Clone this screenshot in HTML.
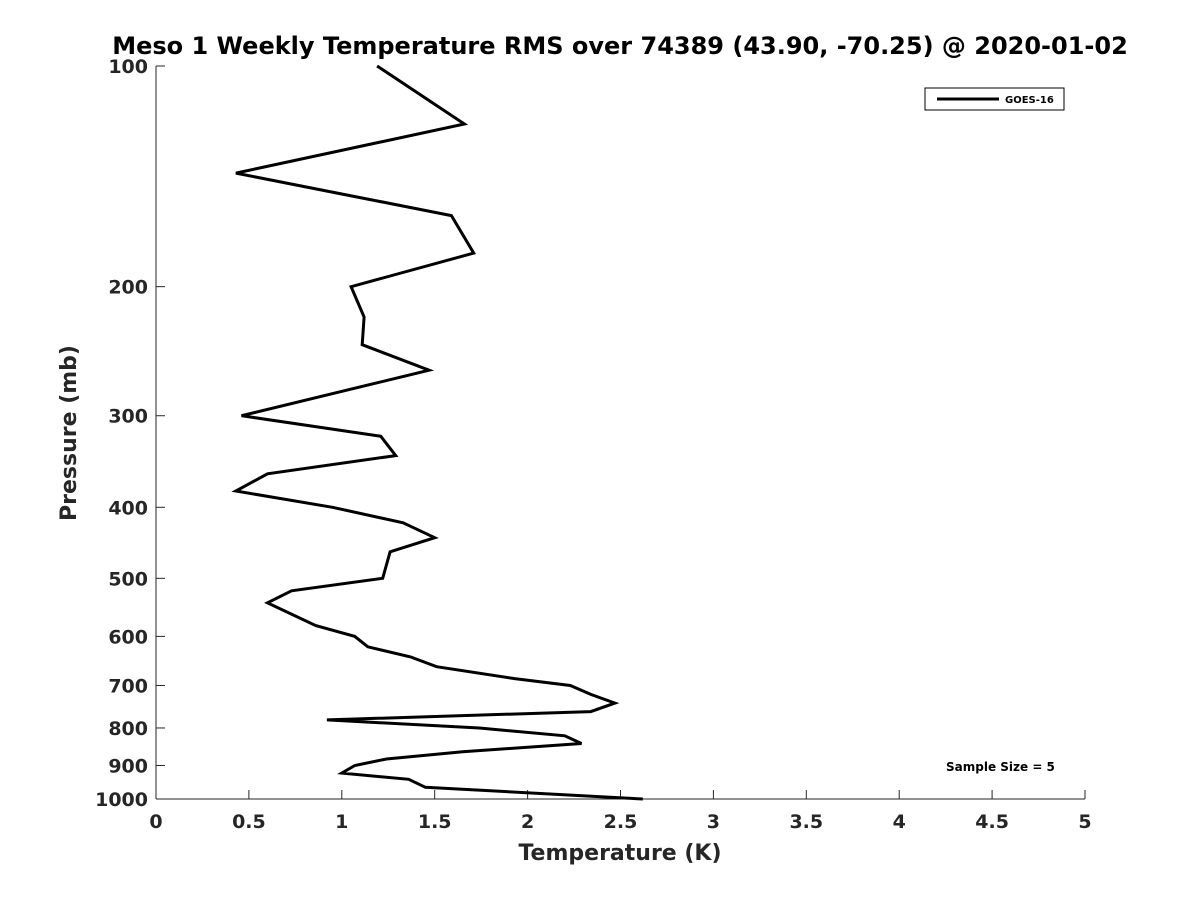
<!DOCTYPE html>
<html><head><meta charset="utf-8"><style>
body{margin:0;background:#fff;}
text{font-family:"DejaVu Sans","Liberation Sans",sans-serif;font-weight:bold;}
</style></head><body>
<svg id="chart" width="1200" height="900" xmlns="http://www.w3.org/2000/svg">
<rect width="1200" height="900" fill="#fff"/>
<text x="620" y="54" text-anchor="middle" font-size="24" fill="#000">Meso 1 Weekly Temperature RMS over 74389 (43.90, -70.25) @ 2020-01-02</text>
<g id="axes"></g>
<g id="series"></g>
<g>
<rect x="925" y="88" width="139" height="22" fill="#fff" stroke="#000" stroke-width="1"/>
<line x1="937" y1="99" x2="999" y2="99" stroke="#000" stroke-width="3"/>
<text x="1005" y="103" font-size="10" fill="#000">GOES-16</text>
</g>
<text x="946" y="771" font-size="12" fill="#000">Sample Size = 5</text>
<text x="620" y="860" text-anchor="middle" font-size="22" fill="#262626">Temperature (K)</text>
<text transform="translate(76,433) rotate(-90)" text-anchor="middle" font-size="22" fill="#262626">Pressure (mb)</text>
</svg>
<script>
const xTicks=[0,0.5,1,1.5,2,2.5,3,3.5,4,4.5,5];
const xTickLabels=["0","0.5","1","1.5","2","2.5","3","3.5","4","4.5","5"];
const yTicks=[100,200,300,400,500,600,700,800,900,1000];
const yTickLabels=["100","200","300","400","500","600","700","800","900","1000"];
const pressure=[100,120,140,160,180,200,220,240,260,300,320,340,360,380,400,420,440,460,500,520,540,580,600,620,640,660,685,700,720,740,760,780,800,820,840,862,882,900,922,940,964,1000];
const temperature=[1.19,1.66,0.43,1.59,1.71,1.05,1.12,1.11,1.47,0.46,1.21,1.29,0.60,0.43,0.95,1.33,1.50,1.26,1.22,0.73,0.60,0.86,1.07,1.14,1.37,1.51,1.93,2.23,2.34,2.47,2.34,0.92,1.74,2.20,2.29,1.65,1.24,1.07,1.00,1.36,1.45,2.62];
const NS="http://www.w3.org/2000/svg";
const L=156,R=1085,T=66,B=799;
function xs(v){return L+(v-0)/(5-0)*(R-L);}
function ys(p){return T+(Math.log10(p)-2)/(1)*(B-T);}
function mk(tag,attrs,parent){const e=document.createElementNS(NS,tag);for(const k in attrs)e.setAttribute(k,attrs[k]);parent.appendChild(e);return e;}
const ax=document.getElementById('axes');
let a=mk('line',{x1:L,y1:B,x2:R,y2:B,stroke:'#262626','stroke-width':1},ax);


a=mk('line',{x1:L,y1:T,x2:L,y2:B,stroke:'#262626','stroke-width':1},ax);


xTicks.forEach((v,i)=>{
  const x=xs(v);
  mk('line',{x1:x,y1:B,x2:x,y2:B-9,stroke:'#262626'},ax);
  const t=mk('text',{x:x,y:B+29,'text-anchor':'middle','font-size':19,fill:'#262626'},ax);
  t.textContent=xTickLabels[i];
  
  
});
yTicks.forEach((v,i)=>{
  const y=ys(v);
  mk('line',{x1:L,y1:y,x2:L+9,y2:y,stroke:'#262626'},ax);
  const t=mk('text',{x:L-8,y:y+7,'text-anchor':'end','font-size':19,fill:'#262626'},ax);
  t.textContent=yTickLabels[i];
  
  
});
const pts=pressure.map((p,i)=>xs(temperature[i]).toFixed(1)+','+ys(p).toFixed(1)).join(' ');
const line=mk('polyline',{points:pts,fill:'none',stroke:'#000','stroke-width':3,'stroke-linejoin':'miter'},document.getElementById('series'));


</script>
</body></html>
